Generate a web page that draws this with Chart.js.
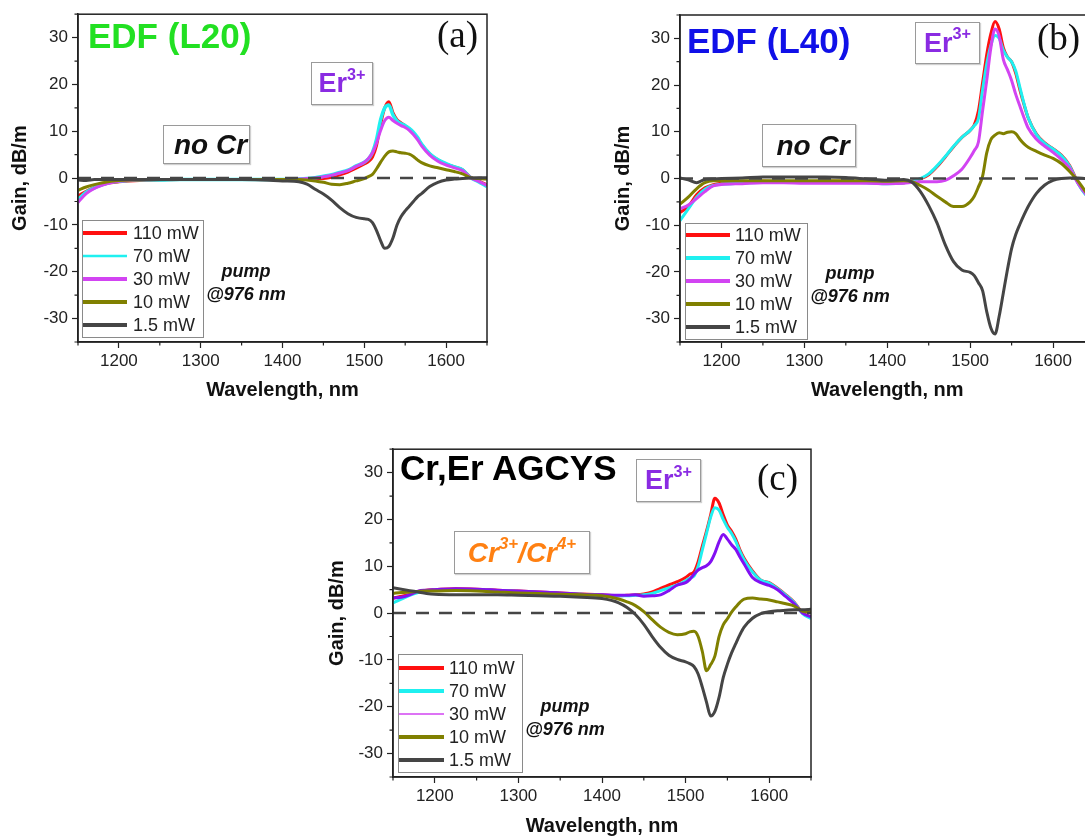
<!DOCTYPE html>
<html lang="en">
<head>
<meta charset="UTF-8">
<title>Gain spectra</title>
<script src="https://cdn.jsdelivr.net/npm/chart.js@4"></script>
<style>
  html, body { margin: 0; padding: 0; background: #fff; overflow: hidden; }
  body { width: 1085px; height: 837px; position: relative; font-family: "Liberation Sans", Arial, sans-serif; color: #111; }
  .panel { position: absolute; }
  .lbl { position: absolute; line-height: 1; white-space: nowrap; }
  .title { font-size: 35px; font-weight: bold; }
  .letter { font-family: "Liberation Serif", "Times New Roman", serif; font-size: 37px; color: #111; }
  .box { position: absolute; box-sizing: border-box; border: 1px solid #9a9a9a; background: #fff;
         display: flex; align-items: center; justify-content: center; box-shadow: 1px 1px 1px #d0d0d0; }
  .er { color: #8a2be2; font-weight: bold; font-size: 27px; line-height: 1; }
  .nocr { font-weight: bold; font-style: italic; font-size: 28px; line-height: 1; padding-left: 8px; }
  .cr { color: #ff8012; font-weight: bold; font-style: italic; font-size: 28px; line-height: 1; }
  sup { font-size: 0.6em; position: relative; top: -0.75em; vertical-align: baseline; }
  .pump { position: absolute; text-align: center; font-weight: bold; font-style: italic; font-size: 18px; line-height: 23px; }
</style>
</head>
<body>
  <div class="panel" style="left:0;top:0"><canvas id="chartA" width="500" height="410"></canvas></div>
  <div class="panel" style="left:600px;top:0"><canvas id="chartB" width="510" height="410"></canvas></div>
  <div class="panel" style="left:313px;top:435px"><canvas id="chartC" width="520" height="405"></canvas></div>

  <!-- panel (a) -->
  <div class="lbl title" style="left:88px;top:18px;color:#22e022">EDF (L20)</div>
  <div class="lbl letter" style="left:437px;top:16px">(a)</div>
  <div class="box" style="left:311px;top:62px;width:62px;height:43px"><span class="er">Er<sup>3+</sup></span></div>
  <div class="box" style="left:163px;top:125px;width:87px;height:39px"><span class="nocr">no Cr</span></div>
  <div class="pump" style="left:196px;top:260px;width:100px">pump<br>@976 nm</div>

  <!-- panel (b) -->
  <div class="lbl title" style="left:687px;top:23px;color:#1010e8">EDF (L40)</div>
  <div class="lbl letter" style="left:1037px;top:19px">(b)</div>
  <div class="box" style="left:915px;top:22px;width:65px;height:42px"><span class="er">Er<sup>3+</sup></span></div>
  <div class="box" style="left:762px;top:124px;width:94px;height:43px"><span class="nocr">no Cr</span></div>
  <div class="pump" style="left:800px;top:262px;width:100px">pump<br>@976 nm</div>

  <!-- panel (c) -->
  <div class="lbl title" style="left:400px;top:450px;color:#000">Cr,Er AGCYS</div>
  <div class="lbl letter" style="left:757px;top:459px">(c)</div>
  <div class="box" style="left:636px;top:459px;width:65px;height:43px"><span class="er">Er<sup>3+</sup></span></div>
  <div class="box" style="left:454px;top:531px;width:136px;height:43px"><span class="cr">Cr<sup>3+</sup>/Cr<sup>4+</sup></span></div>
  <div class="pump" style="left:515px;top:695px;width:100px">pump<br>@976 nm</div>

<script>
// wavelength grid (nm), shared by all three panels
const WL = [1150,1160,1170,1180,1190,1200, 1225,1250,1275,1300,1325,1350,1375,1400,
            1420,1430,1440,1450,1460,1470,1480,1490,1500,
            1505,1510,1515,1520,1525,1530,1535,1540,1545,1550,1555,1560,1565,1570,
            1580,1590,1600,1610,1620,1630,1640,1650];

const POWERS = ['110 mW', '70 mW', '30 mW', '10 mW', '1.5 mW'];

// (a) EDF L20
const A_110 = [-3.8,-2.8,-2.0,-1.4,-1.0,-0.8, -0.5,-0.4,-0.3,-0.3,-0.3,-0.3,-0.3,-0.3,
               -0.3,-0.2,-0.2,-0.1,0.2,0.7,1.3,2.1,3.0,
               3.5,4.5,7.0,11.5,15.0,16.3,14.0,12.5,11.8,11.2,10.5,9.6,8.5,7.2,
               5.2,3.9,3.0,2.4,1.8,0.2,-0.6,-1.5];
const A_70  = [-4.6,-3.0,-2.1,-1.4,-0.9,-0.7, -0.4,-0.4,-0.3,-0.3,-0.3,-0.3,-0.3,-0.3,
               -0.2,-0.1,0.1,0.4,0.7,1.2,1.7,2.6,3.4,
               4.1,5.5,8.3,12.5,15.0,15.6,13.5,12.2,11.6,11.2,10.6,9.8,8.7,7.3,
               5.2,3.9,3.1,2.4,1.8,0.1,-0.8,-1.8];
const A_30  = [-5.2,-3.3,-2.2,-1.5,-1.0,-0.7, -0.4,-0.3,-0.3,-0.3,-0.3,-0.3,-0.3,-0.3,
               -0.2,-0.1,0.0,0.3,0.6,1.1,1.6,2.5,3.4,
               4.2,5.4,7.5,10.2,12.3,13.0,12.3,11.7,11.2,10.8,10.2,9.3,8.2,6.9,
               4.9,3.6,2.8,2.2,1.6,0.1,-0.7,-1.6];
const A_10  = [-2.6,-1.9,-1.4,-1.0,-0.7,-0.5, -0.4,-0.3,-0.3,-0.3,-0.3,-0.3,-0.3,-0.3,
               -0.3,-0.4,-0.6,-0.9,-1.3,-1.4,-1.1,-0.6,-0.1,
               0.3,0.8,2.0,3.4,4.7,5.6,5.8,5.6,5.4,5.3,5.1,4.6,3.9,3.3,
               2.6,2.2,1.8,1.4,0.9,0.1,-0.1,-0.2];
const A_1p5 = [-0.4,-0.5,-0.3,-0.3,-0.3,-0.3, -0.3,-0.3,-0.3,-0.3,-0.3,-0.3,-0.4,-0.6,
               -0.8,-1.3,-2.4,-3.4,-4.7,-6.3,-7.6,-8.4,-8.7,
               -8.8,-9.5,-11.2,-13.4,-15.0,-14.6,-12.8,-10.0,-8.2,-7.0,-6.0,-5.0,-4.0,-3.3,
               -1.8,-0.9,-0.4,-0.2,-0.1,0.0,0.1,0.1];

// (b) EDF L40
const B_110 = [-7.3,-6.0,-3.5,-2.0,-1.3,-1.0, -0.8,-0.6,-0.7,-0.7,-0.6,-0.6,-0.8,-1.0,
               -0.9,-0.6,-0.1,0.8,2.5,4.6,6.8,8.8,10.3,
               11.5,14.5,20.5,26.5,31.0,33.6,32.0,28.0,26.0,25.0,22.5,19.0,15.8,13.0,
               9.5,7.6,6.4,5.0,2.8,-0.9,-3.5,-5.0];
const B_70  = [-9.0,-6.5,-4.0,-2.3,-1.5,-1.2, -1.0,-0.8,-0.8,-0.8,-0.8,-0.8,-0.9,-1.1,
               -0.9,-0.6,0.0,1.0,2.7,4.7,6.9,8.8,10.3,
               11.3,12.8,19.0,24.5,28.5,30.6,30.0,27.5,26.0,25.0,23.0,19.5,16.0,13.0,
               9.4,7.5,6.3,4.9,2.6,-1.0,-3.6,-5.0];
const B_30  = [-6.5,-5.7,-4.3,-2.8,-1.6,-1.3, -1.1,-0.9,-0.9,-1.0,-1.0,-1.0,-1.0,-1.1,
               -1.0,-0.8,-0.7,-0.7,-0.7,-0.4,0.6,2.0,4.5,
               6.0,7.8,14.5,21.0,28.0,32.0,30.5,25.5,23.3,21.0,18.0,15.5,13.0,10.8,
               8.4,6.9,5.6,4.1,2.2,-1.0,-3.4,-5.0];
const B_10  = [-5.5,-4.0,-2.2,-0.9,-0.5,-0.5, -0.5,-0.5,-0.5,-0.5,-0.5,-0.5,-0.5,-0.6,
               -0.5,-0.7,-1.5,-2.5,-3.8,-5.0,-6.0,-6.0,-5.0,
               -3.8,-1.8,0.5,5.5,8.3,9.3,9.8,9.6,9.9,10.0,9.6,8.4,7.4,6.7,
               5.8,5.0,4.3,3.2,1.5,-0.5,-3.0,-5.0];
const B_1p5 = [0.1,-0.3,-0.9,-0.2,-0.1,0.0, 0.1,0.3,0.3,0.3,0.3,0.2,-0.1,-0.4,
               -0.2,-0.8,-2.8,-5.8,-9.5,-14.2,-17.8,-19.6,-20.1,
               -20.8,-22.3,-24.0,-28.5,-32.0,-33.3,-29.5,-24.5,-19.5,-15.0,-12.0,-9.8,-7.8,-6.0,
               -3.2,-1.4,-0.4,0.0,0.1,0.1,0.0,0.0];

// (c) Cr,Er AGCYS
const C_110 = [3.2,3.6,4.0,4.6,4.9,5.0, 5.2,5.1,4.9,4.7,4.5,4.3,4.1,3.9,
               3.7,3.8,3.9,4.1,4.5,5.3,6.0,6.7,7.6,
               8.3,8.8,11.0,14.3,17.5,21.0,24.5,23.5,21.0,18.8,17.5,15.8,13.5,11.7,
               9.0,7.0,6.5,5.3,3.9,2.3,0.0,-0.8];
const C_70  = [2.2,3.0,3.8,4.4,4.8,4.9, 5.0,5.0,4.8,4.6,4.4,4.2,4.0,3.8,
               3.7,3.7,3.8,3.9,4.2,4.8,5.4,6.0,6.9,
               7.5,7.9,10.0,13.5,17.0,20.5,22.5,22.0,20.0,18.3,17.0,15.3,13.2,11.4,
               8.8,7.0,6.4,5.2,3.8,2.2,-0.1,-1.2];
const C_30  = [3.2,3.4,3.9,4.7,4.9,5.0, 5.2,5.1,4.9,4.7,4.5,4.3,4.0,3.9,
               3.8,3.8,3.9,3.6,3.7,3.9,4.8,6.0,6.5,
               7.2,8.3,9.2,9.7,10.1,11.0,12.8,15.2,16.8,15.8,14.6,13.6,12.0,10.5,
               7.6,6.5,5.9,5.0,3.5,2.0,0.0,-0.8];
const C_10  = [4.2,4.4,4.5,4.6,4.7,4.7, 4.8,4.7,4.5,4.3,4.2,4.0,3.9,3.7,
               3.0,2.4,1.6,0.3,-1.4,-3.0,-4.1,-4.6,-4.4,
               -4.0,-3.9,-5.0,-8.2,-12.3,-11.0,-9.2,-5.0,-2.5,-1.2,0.2,1.3,2.3,3.0,
               3.2,3.0,2.8,2.4,2.0,1.5,0.4,0.2];
const C_1p5 = [5.4,5.1,4.8,4.5,4.2,4.0, 3.9,3.9,3.9,3.8,3.7,3.6,3.4,3.1,
               2.2,1.2,-0.3,-2.4,-5.0,-7.3,-9.0,-9.9,-10.4,
               -10.8,-11.4,-13.0,-15.8,-19.0,-22.0,-21.0,-18.0,-13.8,-10.9,-8.5,-6.5,-4.6,-3.0,
               -1.1,-0.1,0.3,0.5,0.6,0.7,0.7,0.8];

// zero reference (dashed)
const ZERO_X = [1150, 1650];
const ZERO_Y = [0, 0];

// axes
const X_RANGE = [1150, 1650];
const Y_RANGE = [-35, 35];
const X_TICKS = [1200, 1300, 1400, 1500, 1600];
const Y_TICKS = [-30, -20, -10, 0, 10, 20, 30];
const X_MINOR = [1150, 1250, 1350, 1450, 1550, 1650];
const Y_MINOR = [-35, -25, -15, -5, 5, 15, 25, 35];

const RED = '#ff1010', CYAN = '#1ff0f0', MAGENTA = '#d244f2', VIOLET = '#8210f2', OLIVE = '#808000', DARK = '#454545';

Chart.defaults.font.family = "'Liberation Sans', Arial, sans-serif";
Chart.defaults.color = '#222';

function pts(xs, ys) { return xs.map((x, i) => ({ x: x, y: ys[i] })); }

function curve(label, ys, color, width, order, legendColor, legendWidth) {
    return {
        label: label, data: pts(WL, ys), borderColor: color, borderWidth: width,
        pointRadius: 0, cubicInterpolationMode: 'monotone', order: order,
        legendColor: legendColor || color, legendWidth: legendWidth || 4
    };
}

// frame, minor ticks and inset legend
const decor = {
    id: 'decor',
    afterDraw(chart, args, opts) {
        const { ctx, chartArea: a, scales: { x, y } } = chart;
        ctx.save();
        ctx.strokeStyle = '#222';
        ctx.lineWidth = 1.5;
        ctx.strokeRect(a.left, a.top, a.right - a.left, a.bottom - a.top);
        ctx.lineWidth = 1.2;
        ctx.beginPath();
        X_MINOR.forEach(v => { const p = x.getPixelForValue(v); ctx.moveTo(p, a.bottom); ctx.lineTo(p, a.bottom + 3.5); });
        Y_MINOR.forEach(v => { const p = y.getPixelForValue(v); ctx.moveTo(a.left, p); ctx.lineTo(a.left - 3.5, p); });
        ctx.stroke();

        const L = opts.legend;
        ctx.fillStyle = '#fff';
        ctx.fillRect(L.x, L.y, L.w, L.h);
        ctx.strokeStyle = '#8a8a8a';
        ctx.lineWidth = 1;
        ctx.strokeRect(L.x + 0.5, L.y + 0.5, L.w, L.h);
        ctx.font = "18px 'Liberation Sans', Arial, sans-serif";
        ctx.textBaseline = 'middle';
        let row = 0;
        chart.data.datasets.forEach(ds => {
            if (!ds.inLegend) return;
            const yy = L.row0 + row * L.step;
            ctx.strokeStyle = ds.legendColor;
            ctx.lineWidth = ds.legendWidth;
            ctx.beginPath();
            ctx.moveTo(L.x0, yy);
            ctx.lineTo(L.x1, yy);
            ctx.stroke();
            ctx.fillStyle = '#222';
            ctx.fillText(ds.label, L.tx, yy + 1);
            row++;
        });
        ctx.restore();
    }
};

function makePanel(id, sets, lay) {
    sets.forEach(s => s.inLegend = true);
    const zero = {
        label: 'zero', data: pts(ZERO_X, ZERO_Y), borderColor: DARK, borderWidth: 2.5,
        borderDash: [13, 10], pointRadius: 0, order: 0, inLegend: false
    };
    return new Chart(document.getElementById(id), {
        type: 'line',
        data: { datasets: sets.concat([zero]) },
        plugins: [decor],
        options: {
            responsive: false,
            animation: false,
            layout: { padding: lay.padding },
            plugins: { legend: { display: false }, tooltip: { enabled: false }, decor: { legend: lay.legend } },
            scales: {
                x: {
                    type: 'linear', min: X_RANGE[0], max: X_RANGE[1],
                    afterBuildTicks: s => { s.ticks = X_TICKS.map(v => ({ value: v })); },
                    afterFit: s => { s.height = lay.xh; },
                    grid: { drawOnChartArea: false, tickLength: 6, tickColor: '#222', tickWidth: 1.2 },
                    border: { color: '#222', width: 1.5 },
                    ticks: { font: { size: 17 }, color: '#222', padding: 3, maxRotation: 0, callback: v => String(v) },
                    title: { display: true, text: 'Wavelength, nm', font: { size: 20, weight: 'bold' }, color: '#111',
                             padding: { top: 0, bottom: lay.xt } }
                },
                y: {
                    min: Y_RANGE[0], max: Y_RANGE[1],
                    afterBuildTicks: s => { s.ticks = Y_TICKS.map(v => ({ value: v })); },
                    afterFit: s => { s.width = lay.yw; },
                    grid: { drawOnChartArea: false, tickLength: 6, tickColor: '#222', tickWidth: 1.2 },
                    border: { color: '#222', width: 1.5 },
                    ticks: { font: { size: 17 }, color: '#222', padding: 4, callback: v => String(v) },
                    title: { display: true, text: 'Gain, dB/m', font: { size: 20, weight: 'bold' }, color: '#111',
                             padding: { top: lay.yt, bottom: 0 } }
                }
            }
        }
    });
}

makePanel('chartA', [
    curve(POWERS[0], A_110, RED, 3, 5),
    curve(POWERS[1], A_70, CYAN, 3.5, 4, CYAN, 2.5),
    curve(POWERS[2], A_30, MAGENTA, 3, 3),
    curve(POWERS[3], A_10, OLIVE, 3, 2),
    curve(POWERS[4], A_1p5, DARK, 3, 1)
], {
    padding: { left: 0, top: 9, right: 13, bottom: 0 }, yw: 78, xh: 68, yt: 8, xt: 8,
    legend: { x: 82, y: 220, w: 121, h: 117, row0: 233, step: 23, x0: 83, x1: 127, tx: 133 }
});

makePanel('chartB', [
    curve(POWERS[0], B_110, RED, 3, 5),
    curve(POWERS[1], B_70, CYAN, 3, 4),
    curve(POWERS[2], B_30, MAGENTA, 3, 3),
    curve(POWERS[3], B_10, OLIVE, 3, 2),
    curve(POWERS[4], B_1p5, DARK, 3, 1)
], {
    padding: { left: 0, top: 15, right: 15.5, bottom: 0 }, yw: 80, xh: 68, yt: 11, xt: 8,
    legend: { x: 85, y: 223, w: 122, h: 116, row0: 235, step: 23, x0: 86, x1: 130, tx: 135 }
});

makePanel('chartC', [
    curve(POWERS[0], C_110, RED, 3, 5),
    curve(POWERS[1], C_70, CYAN, 3, 4),
    curve(POWERS[2], C_30, VIOLET, 3, 3, MAGENTA, 1.5),
    curve(POWERS[3], C_10, OLIVE, 3, 2),
    curve(POWERS[4], C_1p5, DARK, 3, 1)
], {
    padding: { left: 0, top: 9, right: 22, bottom: 0 }, yw: 80, xh: 63, yt: 12, xt: 2,
    legend: { x: 85, y: 219, w: 124, h: 118, row0: 233, step: 23, x0: 86, x1: 131, tx: 136 }
});
</script>
</body>
</html>
